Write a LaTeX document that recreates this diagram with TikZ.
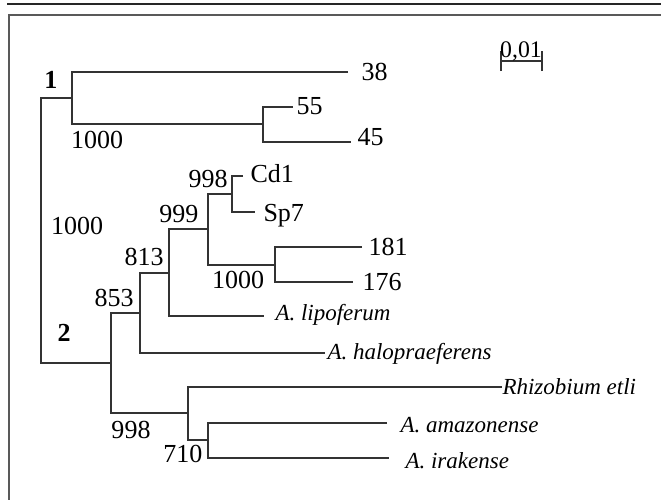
\documentclass[tikz,border=0pt]{standalone}
\usepackage{fontspec}
\setmainfont{Liberation Serif}
\begin{document}
\begin{tikzpicture}[
		x=0.4pt, y=-0.4pt,
		branch/.style={draw=black!80, line width=0.5pt},
		every node/.style={inner sep=0pt, text height=6.6pt, text depth=0pt, font=\fontsize{10.4}{12}\selectfont},
		taxon/.style={anchor=west},
		species/.style={anchor=west, text height=6pt, font=\fontsize{9.2}{11}\selectfont\itshape},
		clade/.style={font=\fontsize{10.4}{12}\selectfont\bfseries}
		]
		\useasboundingbox (0,0) rectangle (661,500);
		% Frame
		\draw[black!85, line width=0.6pt] (7,4) -- (661,4);
		\draw[black!65, line width=0.8pt] (661,15) -- (9,15) -- (9,500);
		
		% Inner nodes
		\coordinate (root) at (41,230);
		\coordinate (cl1) at (72,98);
		\coordinate (n1000a) at (263,124);
		\coordinate (cl2) at (111,363);
		\coordinate (n853) at (140,313);
		\coordinate (n813) at (169,273);
		\coordinate (n999) at (208,229);
		\coordinate (n998a) at (232,194);
		\coordinate (n1000b) at (275,265);
		\coordinate (n998b) at (188,413);
		\coordinate (n710) at (208,440);
		
		% Leaf ends
		\coordinate (e38) at (348,72);
		\coordinate (e55) at (293,107);
		\coordinate (e45) at (351,142);
		\coordinate (ecd1) at (243,176);
		\coordinate (esp7) at (255,212);
		\coordinate (e181) at (362,247);
		\coordinate (e176) at (353,282);
		\coordinate (elipo) at (264,316);
		\coordinate (ehalo) at (325,353);
		\coordinate (erhizo) at (502,387);
		\coordinate (eama) at (387,423);
		\coordinate (eira) at (389,458);
		
		% Branches
		\draw[branch] (cl1) -| (root) |- (cl2);
		\draw[branch] (e38) -| (cl1) |- (n1000a);
		\draw[branch] (e55) -| (n1000a) |- (e45);
		\draw[branch] (n813) -| (n853) |- (ehalo);
		\draw[branch] (n999) -| (n813) |- (elipo);
		\draw[branch] (n998a) -| (n999) |- (n1000b);
		\draw[branch] (ecd1) -| (n998a) |- (esp7);
		\draw[branch] (e181) -| (n1000b) |- (e176);
		\draw[branch] (n853) -| (cl2) |- (n998b);
		\draw[branch] (erhizo) -| (n998b) |- (n710);
		\draw[branch] (eama) -| (n710) |- (eira);
		
		% Taxa
		\node[taxon] (l38) at (361,72) {38};
		\node[taxon] (l55) at (296,106) {55};
		\node[taxon] (l45) at (357,137) {45};
		\node[taxon] (lcd1) at (250,174) {Cd1};
		\node[taxon] (lsp7) at (263,213) {Sp7};
		\node[taxon] (l181) at (368,247) {181};
		\node[taxon] (l176) at (362,282) {176};
		\node[species] (llipo) at (275,313) {A. lipoferum};
		\node[species] (lhalo) at (327,352) {A. halopraeferens};
		\node[species] (lrhizo) at (502,387) {Rhizobium etli};
		\node[species] (lama) at (400,425) {A. amazonense};
		\node[species] (lira) at (405,461) {A. irakense};
		
		% Bootstrap values
		\node (b1000a) at (97,140) {1000};
		\node (b1000r) at (77,226) {1000};
		\node (b998a) at (208,179) {998};
		\node (b999) at (179,214) {999};
		\node (b813) at (144,257) {813};
		\node (b853) at (114,298) {853};
		\node (b1000b) at (238,280) {1000};
		\node (b998b) at (131,430) {998};
		\node (b710) at (183,454) {710};
		\node[clade] (c1) at (51,80) {1};
		\node[clade] (c2) at (64,333) {2};
		
		% Scale bar
		\coordinate (sa) at (501,61);
		\coordinate (sb) at (542,61);
		\draw[branch] (sa) -- (sb);
		\draw[branch] ([yshift=-4]sa) -- ([yshift=4]sa);
		\draw[branch] ([yshift=-4]sb) -- ([yshift=4]sb);
		\node[font=\fontsize{9.5}{11}\selectfont, text height=6pt] (scale) at (521,50) {0,01};
	\end{tikzpicture}
\end{document}
